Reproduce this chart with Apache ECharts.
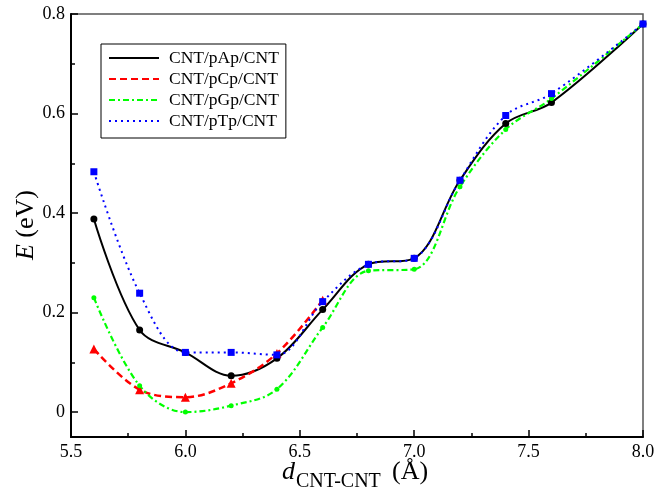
<!DOCTYPE html>
<html>
<head>
<meta charset="utf-8">
<script src="https://cdn.jsdelivr.net/npm/echarts@6/dist/echarts.min.js"></script>
<style>
html,body{margin:0;padding:0;background:#fff;}
#chart{width:667px;height:502px;}
</style>
</head>
<body>
<div id="chart"></div>
<script>
// ---- data ----
var dist = [5.6, 5.8, 6.0, 6.2, 6.4, 6.6, 6.8, 7.0, 7.2, 7.4, 7.6, 8.0];
var distC = [5.6, 5.8, 6.0, 6.2, 6.4, 6.6];
var pAp = [0.388, 0.165, 0.120, 0.073, 0.108, 0.206, 0.297, 0.309, 0.466, 0.580, 0.622, 0.780];
var pCp = [0.127, 0.045, 0.030, 0.058, 0.118, 0.225];
var pGp = [0.230, 0.053, 0.000, 0.013, 0.046, 0.170, 0.284, 0.287, 0.453, 0.568, 0.630, 0.780];
var pTp = [0.483, 0.239, 0.120, 0.120, 0.115, 0.222, 0.297, 0.309, 0.466, 0.596, 0.640, 0.780];
var seriesNames = ['CNT/pAp/CNT', 'CNT/pCp/CNT', 'CNT/pGp/CNT', 'CNT/pTp/CNT'];
var yMajor = [0, 0.2, 0.4, 0.6, 0.8];
var yMinor = [0.1, 0.3, 0.5, 0.7];

function pairs(xs, ys) { return xs.map(function (x, i) { return [x, ys[i]]; }); }

var FONT = 'Liberation Serif';
var SMOOTH = 0.35;
var chart = echarts.init(document.getElementById('chart'), null, {renderer: 'canvas'});

var option = {
  animation: false,
  backgroundColor: '#fff',
  textStyle: {fontFamily: FONT},
  grid: {left: 71, right: 24, top: 14, bottom: 65, show: true, borderColor: '#555', borderWidth: 1.5},
  legend: {
    data: seriesNames,
    orient: 'vertical',
    left: 101, top: 44,
    padding: [5, 7, 8, 7],
    itemWidth: 50, itemHeight: 14, itemGap: 3,
    borderColor: '#000', borderWidth: 1,
    itemStyle: {opacity: 0},
    textStyle: {fontFamily: FONT, fontSize: 17.5, lineHeight: 17, color: '#000', padding: [0, 0, 0, 5]}
  },
  xAxis: {
    type: 'value', min: 5.5, max: 8.0, interval: 0.5,
    axisLine: {onZero: false, lineStyle: {color: '#000', width: 2}},
    axisTick: {inside: true, length: 7, lineStyle: {color: '#000', width: 1.5}},
    minorTick: {show: true, splitNumber: 2, length: 4, lineStyle: {color: '#000', width: 1.5}},
    splitLine: {show: false},
    axisLabel: {fontFamily: FONT, fontSize: 18, color: '#000', margin: 6,
      formatter: function (v) { return v.toFixed(1); }}
  },
  yAxis: [{
    type: 'value', min: -0.05, max: 0.8,
    axisLine: {onZero: false, lineStyle: {color: '#000', width: 2}},
    axisTick: {inside: true, length: 7, customValues: yMajor, lineStyle: {color: '#000', width: 1.5}},
    splitLine: {show: false},
    axisLabel: {fontFamily: FONT, fontSize: 18, color: '#000', margin: 6, customValues: yMajor,
      formatter: function (v) { return Math.abs(v) < 1e-9 ? '0' : v.toFixed(1); }}
  }, {
    type: 'value', min: -0.05, max: 0.8, position: 'left', offset: 0,
    axisLine: {show: false, onZero: false},
    axisTick: {show: true, inside: true, length: 4, customValues: yMinor, lineStyle: {color: '#000', width: 1.5}},
    axisLabel: {show: false},
    splitLine: {show: false}
  }],
  series: [
    {name: seriesNames[0], type: 'line', smooth: SMOOTH, data: pairs(dist, pAp),
      symbol: 'circle', symbolSize: 7, itemStyle: {color: '#000'},
      lineStyle: {color: '#000', width: 2, type: 'solid'}},
    {name: seriesNames[1], type: 'line', smooth: SMOOTH, data: pairs(distC, pCp),
      symbol: 'triangle', symbolSize: 9, itemStyle: {color: '#ff0000'},
      lineStyle: {color: '#ff0000', width: 2.5, type: [7, 4]}},
    {name: seriesNames[2], type: 'line', smooth: SMOOTH, data: pairs(dist, pGp),
      symbol: 'circle', symbolSize: 5, itemStyle: {color: '#00ff00'},
      lineStyle: {color: '#00ff00', width: 2.2, type: [6, 3, 2, 3]}},
    {name: seriesNames[3], type: 'line', smooth: SMOOTH, data: pairs(dist, pTp),
      symbol: 'rect', symbolSize: 7, itemStyle: {color: '#0000ff'},
      lineStyle: {color: '#0000ff', width: 2, type: [2, 4]}}
  ],
  graphic: [
    {type: 'text', x: 26, y: 225, rotation: Math.PI / 2,
      style: {text: '{i|E} (eV)', fontFamily: FONT, fontSize: 26, fill: '#000',
        align: 'center', verticalAlign: 'middle',
        rich: {i: {fontFamily: FONT, fontSize: 26, fontStyle: 'italic'}}}},
    {type: 'text', x: 282, y: 485,
      style: {text: 'd', fontFamily: FONT, fontSize: 26, fontStyle: 'italic', fill: '#000', verticalAlign: 'bottom'}},
    {type: 'text', x: 296, y: 492,
      style: {text: 'CNT-CNT', fontFamily: FONT, fontSize: 20, fill: '#000', verticalAlign: 'bottom'}},
    {type: 'text', x: 392, y: 485,
      style: {text: '(Å)', fontFamily: FONT, fontSize: 26, fill: '#000', verticalAlign: 'bottom'}}
  ]
};
chart.setOption(option);
</script>
</body>
</html>
